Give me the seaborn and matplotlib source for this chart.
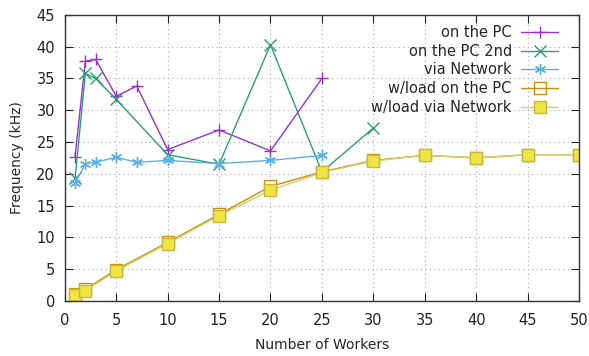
import numpy as np
import pandas as pd
import matplotlib
matplotlib.use("Agg")
import matplotlib.pyplot as plt
import seaborn as sns

# workers / frequency data
x_pc = [1, 2, 3, 5, 7, 10, 15, 20, 25]
y_pc = [22.7, 37.7, 38.0, 32.2, 33.8, 23.8, 26.9, 23.6, 35.0]

x_pc2 = [1, 2, 3, 5, 10, 15, 20, 25, 30]
y_pc2 = [19.3, 35.8, 35.0, 31.7, 23.0, 21.5, 40.3, 20.3, 27.2]

x_net = [1, 2, 3, 5, 7, 10, 15, 20, 25]
y_net = [18.5, 21.6, 21.8, 22.6, 21.8, 22.1, 21.6, 22.1, 22.9]

x_load = [1, 2, 5, 10, 15, 20, 25, 30, 35, 40, 45, 50]
y_load_pc = [1.1, 1.8, 4.9, 9.2, 13.6, 18.0, 20.3, 22.1, 22.9, 22.5, 23.0, 23.0]
y_load_net = [0.9, 1.6, 4.7, 9.0, 13.4, 17.4, 20.2, 22.0, 22.9, 22.5, 23.0, 23.0]

labels = ["on the PC", "on the PC 2nd", "via Network", "w/load on the PC", "w/load via Network"]
colors = ["#9b30d0", "#2a9e7a", "#5ab2e4", "#c8900a", "#f0e442"]

sns.set_style("ticks")
plt.rcParams["font.family"] = ["DejaVu Sans"]
plt.rcParams["font.size"] = 10

fig, ax = plt.subplots(figsize=(5.89, 3.56), dpi=100)
fig.subplots_adjust(left=0.110, right=0.983, top=0.958, bottom=0.155)

common = dict(ax=ax, linewidth=1.0, markersize=8, markeredgewidth=1.0, sort=False, errorbar=None)
sns.lineplot(x=x_pc, y=y_pc, marker="+", color=colors[0], markeredgecolor=colors[0],
             label=labels[0], **common)
sns.lineplot(x=x_pc2, y=y_pc2, marker="x", color=colors[1], markeredgecolor=colors[1],
             label=labels[1], **common)
sns.lineplot(x=x_net, y=y_net, marker=(6, 2, 0), color=colors[2], markeredgecolor=colors[2],
             label=labels[2], **common)
sns.lineplot(x=x_load, y=y_load_pc, marker="s", color=colors[3], markeredgecolor=colors[3],
             markerfacecolor="none", label=labels[3], **common)
sns.lineplot(x=x_load, y=y_load_net, marker="s", color="#d8cf6a", markeredgecolor="#c9b640",
             markerfacecolor=colors[4], label=labels[4], **common)

ax.set_xlim(0, 50)
ax.set_ylim(0, 45)
ax.set_xticks(np.arange(0, 51, 5))
ax.set_yticks(np.arange(0, 46, 5))
ax.grid(True, linestyle=(0, (1, 3)), color="#aaaaaa", linewidth=0.8)
ax.tick_params(direction="in", length=6, top=True, right=True, labelsize=10.5, colors="#222222")
ax.tick_params(axis="x", pad=9)
ax.tick_params(axis="y", pad=7)
for s in ax.spines.values():
    s.set_color("#333333")
    s.set_linewidth(1.0)

ax.set_xlabel("Number of Workers", fontsize=10, labelpad=7)
ax.set_ylabel("Frequency (kHz)", fontsize=10, labelpad=9)

leg = ax.legend(loc="upper right", bbox_to_anchor=(0.98, 1.0), frameon=False, markerfirst=False,
                fontsize=10.5, handlelength=2.6, borderaxespad=0.3, labelspacing=0.25,
                handletextpad=0.6)

fig.savefig("out.png", dpi=100)
